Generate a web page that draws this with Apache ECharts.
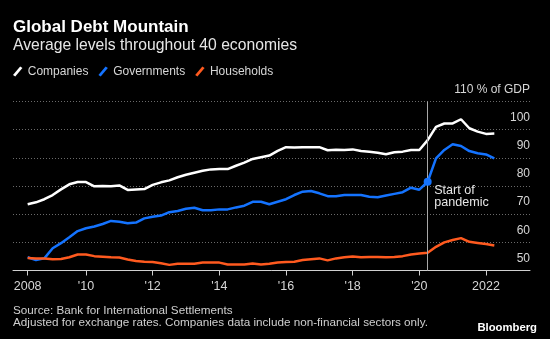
<!DOCTYPE html>
<html>
<head>
<meta charset="utf-8">
<title>Global Debt Mountain</title>
<script src="https://cdn.jsdelivr.net/npm/echarts@6/dist/echarts.min.js"></script>
<style>
  html, body { margin: 0; padding: 0; background: #000; }
  #chart { width: 550px; height: 339px; }
</style>
</head>
<body>
<div id="chart"></div>
<script>
// Quarterly debt levels (% of GDP), 2008 Q1 through 2022 Q1
const firstYear = 2008;
const companies = [
  73.5, 74.2, 75.3, 76.8, 78.8, 80.6, 81.4, 81.4, 79.9, 80.0,
  79.9, 80.2, 78.6, 78.8, 78.9, 80.4, 81.3, 82.0, 83.1, 84.0,
  84.7, 85.4, 85.9, 86.0, 86.0, 87.2, 88.3, 89.6, 90.2, 90.8,
  92.5, 93.8, 93.7, 93.8, 93.8, 93.8, 92.7, 92.9, 92.8, 93.0,
  92.4, 92.2, 91.8, 91.3, 92.0, 92.2, 92.8, 92.8, 96.3, 101.0,
  102.2, 102.2, 103.7, 100.5, 99.3, 98.5, 98.6
];
const governments = [
  54.7, 53.7, 54.3, 57.9, 59.7, 61.8, 64.0, 65.0, 65.6, 66.5,
  67.6, 67.3, 66.8, 67.0, 68.5, 69.1, 69.5, 70.7, 71.1, 71.9,
  72.3, 71.4, 71.4, 71.7, 71.7, 72.4, 73.0, 74.4, 74.4, 73.5,
  74.4, 75.3, 76.8, 78.0, 78.2, 77.4, 76.4, 76.4, 76.8, 76.8,
  76.8, 76.2, 76.0, 76.6, 77.2, 77.8, 79.4, 78.7, 81.5, 89.8,
  92.8, 94.8, 94.2, 92.4, 91.6, 91.2, 89.8
];
const households = [
  54.4, 54.3, 54.3, 54.0, 54.1, 54.7, 55.7, 55.7, 55.1, 54.9,
  54.7, 54.6, 53.9, 53.4, 53.1, 53.0, 52.6, 52.0, 52.4, 52.4,
  52.4, 52.8, 52.8, 52.8, 52.1, 52.1, 52.1, 52.5, 52.1, 52.4,
  52.8, 53.0, 53.1, 53.7, 54.0, 54.3, 53.6, 54.3, 54.7, 55.0,
  54.7, 54.8, 54.8, 54.7, 54.8, 55.1, 55.7, 56.0, 56.3, 58.4,
  60.0, 60.8, 61.5, 60.2, 59.8, 59.4, 58.9
];

// Axis ticks and their labels
const xTickValues = [2008.25, 2010, 2012, 2014, 2016, 2018, 2020, 2022];
const xTickLabels = ['2008', "'10", "'12", "'14", "'16", "'18", "'20", '2022'];
const yTicks = [50, 60, 70, 80, 90, 100, 110];
const yUnit = '% of GDP';

// Pandemic marker: 2020 Q1
const pandemicIndex = 48;

const seriesNames = ['Companies', 'Governments', 'Households'];
const seriesColors = ['#ffffff', '#1473ff', '#ff5a1f'];

// Quarter-end position of each observation on the year axis
const quarterX = companies.map((_, i) => firstYear + (i + 1) / 4);
const pairs = vals => vals.map((v, i) => [quarterX[i], v]);

const font = 'Liberation Sans';
const chart = echarts.init(document.getElementById('chart'), null, { renderer: 'canvas' });

const slashIcon = 'path://M0,9 L7.6,0 L10,1.6 L2.4,10.6 Z';

chart.setOption({
  backgroundColor: '#000',
  animation: false,
  textStyle: { fontFamily: font },
  title: [
    {
      text: 'Global Debt Mountain',
      subtext: 'Average levels throughout 40 economies',
      left: 13, top: 17.5, padding: 0, itemGap: 0.5,
      textStyle: { color: '#fff', fontSize: 17, fontWeight: 'bold', lineHeight: 19, fontFamily: font },
      subtextStyle: { color: '#e6e6e6', fontSize: 15.7, lineHeight: 17, fontFamily: font }
    },
    {
      text: 'Source: Bank for International Settlements\nAdjusted for exchange rates. Companies data include non-financial sectors only.',
      left: 13, top: 304.4, padding: 0,
      textStyle: { color: '#cfcfcf', fontSize: 11.7, fontWeight: 'normal', lineHeight: 12.2, fontFamily: font }
    },
    {
      text: 'Bloomberg',
      right: 13, top: 320.5, padding: 0,
      textStyle: { color: '#fff', fontSize: 11.3, fontWeight: 'bold', lineHeight: 14, fontFamily: font }
    }
  ],
  legend: {
    left: 13, top: 65.5, padding: 0,
    itemWidth: 10, itemHeight: 10, itemGap: 10,
    icon: slashIcon,
    textStyle: { color: '#d6d6d6', fontSize: 12, fontFamily: font },
    data: seriesNames
  },
  grid: { left: 13, right: 20, top: 101.5, bottom: 68.5, containLabel: false },
  xAxis: {
    type: 'value',
    min: 2007.81, max: 2023.32,
    axisLine: { show: true, lineStyle: { color: '#d0d0d0', width: 1 } },
    axisTick: { show: true, length: 5, customValues: xTickValues, lineStyle: { color: '#d0d0d0' } },
    axisLabel: {
      customValues: xTickValues,
      color: '#d6d6d6', fontSize: 12.5, margin: 10,
      formatter: v => {
        const k = xTickValues.findIndex(t => Math.abs(t - v) < 1e-6);
        return k >= 0 ? xTickLabels[k] : '';
      }
    },
    splitLine: { show: false }
  },
  yAxis: {
    type: 'value',
    position: 'right',
    min: yTicks[0], max: yTicks[yTicks.length - 1], interval: 10,
    axisLine: { show: false },
    axisTick: { show: false },
    axisLabel: {
      inside: true, margin: 0,
      color: '#d6d6d6', fontSize: 12,
      verticalAlign: 'bottom', lineHeight: 14, padding: [0, 0, 5, 0],
      formatter: v => v === yTicks[yTicks.length - 1] ? v + ' ' + yUnit : String(v)
    },
    splitLine: { show: true, lineStyle: { color: '#6a6a6a', width: 1, type: [1, 2] } }
  },
  series: [
    {
      name: seriesNames[0], type: 'line', data: pairs(companies),
      showSymbol: false, color: seriesColors[0],
      lineStyle: { width: 2.5, color: seriesColors[0] },
      markLine: {
        silent: true, symbol: 'none',
        label: { show: false },
        lineStyle: { color: '#a8a8a8', width: 1, type: 'solid' },
        data: [{ xAxis: quarterX[pandemicIndex] }]
      }
    },
    {
      name: seriesNames[1], type: 'line', data: pairs(governments),
      showSymbol: false, color: seriesColors[1],
      lineStyle: { width: 2.5, color: seriesColors[1] },
      markPoint: {
        silent: true,
        symbol: 'circle', symbolSize: 8,
        itemStyle: { color: seriesColors[1] },
        label: {
          show: true, formatter: 'Start of\npandemic',
          color: '#e6e6e6', fontSize: 12.6, lineHeight: 12,
          position: [10.5, 7], align: 'left', verticalAlign: 'top'
        },
        data: [{ coord: [quarterX[pandemicIndex], governments[pandemicIndex]] }]
      }
    },
    {
      name: seriesNames[2], type: 'line', data: pairs(households),
      showSymbol: false, color: seriesColors[2],
      lineStyle: { width: 2.5, color: seriesColors[2] }
    }
  ]
});
</script>
</body>
</html>
